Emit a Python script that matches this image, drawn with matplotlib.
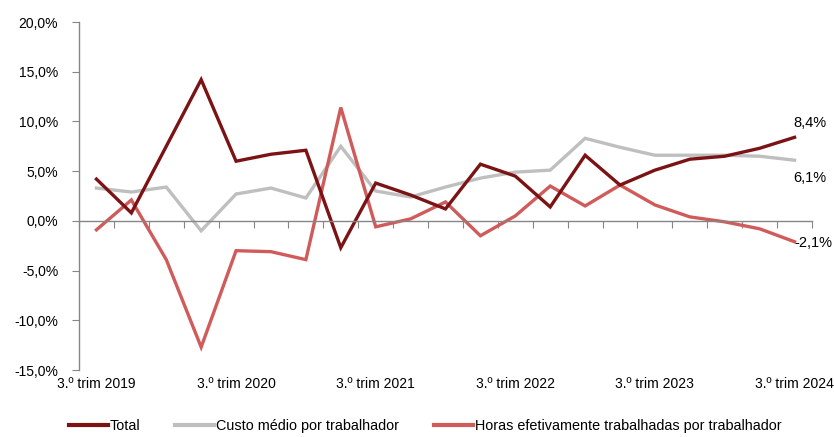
import matplotlib.pyplot as plt
from matplotlib.lines import Line2D
import matplotlib.transforms as mtransforms

plt.rcParams['font.family'] = ['Liberation Sans', 'DejaVu Sans']

quarters = list(range(21))
tick_labels = ["3.º trim 2019", "3.º trim 2020", "3.º trim 2021",
               "3.º trim 2022", "3.º trim 2023", "3.º trim 2024"]

total = [4.2, 0.8, 7.5, 14.2, 6.0, 6.7, 7.1, -2.7, 3.8, 2.6, 1.2,
         5.7, 4.5, 1.4, 6.6, 3.6, 5.1, 6.2, 6.5, 7.3, 8.4]
custo = [3.3, 2.9, 3.4, -1.0, 2.7, 3.3, 2.3, 7.5, 3.0, 2.4, 3.4,
         4.3, 4.9, 5.1, 8.3, 7.4, 6.6, 6.6, 6.6, 6.5, 6.1]
horas = [-0.9, 2.1, -3.9, -12.7, -3.0, -3.1, -3.9, 11.4, -0.6, 0.2, 1.9,
         -1.5, 0.5, 3.5, 1.5, 3.6, 1.6, 0.4, -0.1, -0.8, -2.1]

c_total = "#7B1315"
c_custo = "#BFBFBF"
c_horas = "#D05B5B"

fig = plt.figure(figsize=(8.34, 4.37), dpi=100)
ax = fig.add_axes([79/834, 67/437, (812-79)/834, (370-22)/437])

ax.plot(quarters, custo, color=c_custo, lw=2.4, solid_joinstyle='miter')
ax.plot(quarters, horas, color=c_horas, lw=2.4, solid_joinstyle='miter')
ax.plot(quarters, total, color=c_total, lw=2.4, solid_joinstyle='miter')

ax.set_xlim(-0.5, 20.5)
ax.set_ylim(-15, 20)
ax.set_yticks(range(-15, 21, 5))
ax.set_yticklabels([f"{v:.1f}%".replace(".", ",") for v in range(-15, 21, 5)], fontsize=10)

for s in ["top", "right"]:
    ax.spines[s].set_visible(False)
ax.spines["bottom"].set_position(("data", 0))
for s in ["left", "bottom"]:
    ax.spines[s].set_color("#868686")
    ax.spines[s].set_linewidth(1)

ax.set_xticks([i - 0.5 for i in range(22)])
ax.set_xticklabels([])
ax.tick_params(axis="x", direction="out", length=5, color="#868686")
ax.tick_params(axis="y", direction="out", length=5, color="#868686", pad=10)

trans = mtransforms.blended_transform_factory(ax.transData, ax.transAxes)
for i, lab in zip(range(0, 21, 4), tick_labels):
    ax.text(i, -0.02, lab, transform=trans, ha="center", va="top", fontsize=10)

ax.annotate("8,4%", (20, total[-1]), xytext=(-1, 5), textcoords="offset points",
            ha="left", va="bottom", fontsize=10.5)
ax.annotate("6,1%", (20, custo[-1]), xytext=(-1, -8), textcoords="offset points",
            ha="left", va="top", fontsize=10.5)
ax.annotate("-2,1%", (20, horas[-1]), xytext=(0, -1), textcoords="offset points",
            ha="left", va="center", fontsize=10.5)

handles = [Line2D([], [], color=c_total, lw=3),
           Line2D([], [], color=c_custo, lw=3),
           Line2D([], [], color=c_horas, lw=3)]
fig.legend(handles, ["Total", "Custo médio por trabalhador",
                     "Horas efetivamente trabalhadas por trabalhador"],
           loc="lower center", bbox_to_anchor=(0.51, 0.0), ncol=3, frameon=False,
           fontsize=10.4, handlelength=2.7, handletextpad=0.15, columnspacing=2.4,
           borderpad=0.1, borderaxespad=0.2)

plt.savefig("out.png", dpi=100)
